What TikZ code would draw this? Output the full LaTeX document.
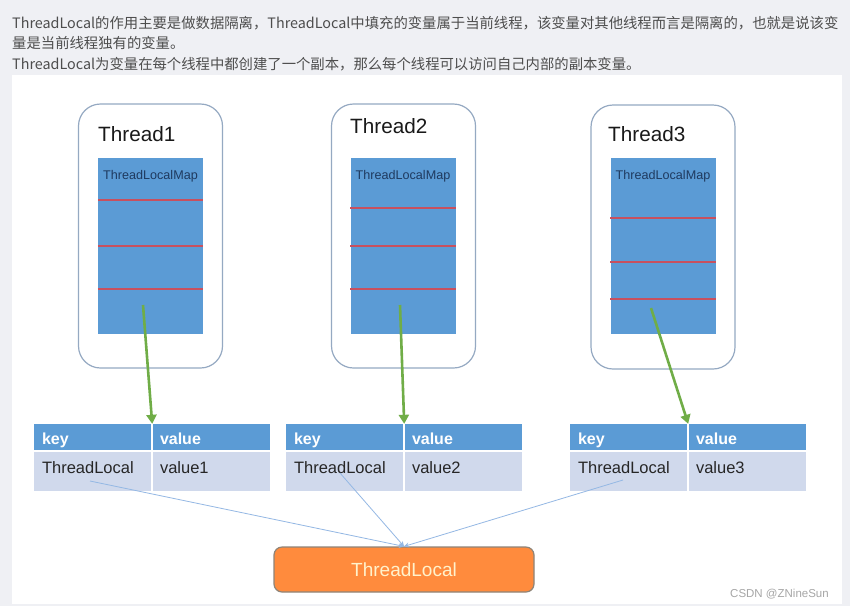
\documentclass[tikz,border=0pt]{standalone}
\usepackage{fontspec}
\setmainfont{Liberation Sans}
\newfontfamily\cjkfont{Noto Sans CJK SC}
\usetikzlibrary{arrows.meta}
\definecolor{bggray}{HTML}{EFF0F4}
\definecolor{topgray}{HTML}{4D4D4D}
\definecolor{threadborder}{HTML}{95A9C2}
\definecolor{mapblue}{HTML}{5B9BD5}
\definecolor{mapfont}{HTML}{1F3A5F}
\definecolor{sepred}{HTML}{C8505F}
\definecolor{arrowgreen}{HTML}{70AD47}
\definecolor{headblue}{HTML}{5B9BD5}
\definecolor{rowblue}{HTML}{D0D9EC}
\definecolor{celltextcol}{HTML}{262626}
\definecolor{lineblue}{HTML}{94B8E4}
\definecolor{tlorange}{HTML}{FF8B3D}
\definecolor{tlborder}{HTML}{8E8478}
\definecolor{tltext}{HTML}{FFF2CC}
\definecolor{marklgray}{HTML}{A6A6A6}
\tikzset{
    threadbox/.style = {rectangle, draw=threadborder, line width=1.2pt, fill=white, rounded corners=22pt, minimum width=144pt, minimum height=264pt, inner sep=0pt},
    mapbox/.style = {rectangle, fill=mapblue, minimum width=105pt, minimum height=176pt, inner sep=0pt},
    sepline/.style = {line width=1.5pt, draw=sepred},
    threadname/.style = {anchor=base west, inner sep=0pt, text=black!90, font=\fontsize{20.7pt}{24pt}\selectfont},
    mapname/.style = {anchor=base, inner sep=0pt, text=mapfont, font=\fontsize{12.6pt}{14pt}\selectfont},
    headcell/.style = {rectangle, fill=headblue, minimum width=117pt, minimum height=26pt, inner sep=0pt},
    rowcell/.style = {rectangle, fill=rowblue, minimum width=117pt, minimum height=39pt, inner sep=0pt},
    headtext/.style = {anchor=base west, inner sep=0pt, text=white, font=\bfseries\fontsize{16pt}{18pt}\selectfont},
    celltext/.style = {anchor=base west, inner sep=0pt, text=celltextcol, font=\fontsize{16.5pt}{18pt}\selectfont},
    tlbox/.style = {rectangle, draw=tlborder, line width=1.2pt, fill=tlorange, rounded corners=8pt, minimum width=260pt, minimum height=45pt, inner sep=0pt, text=tltext, font=\fontsize{19pt}{22pt}\selectfont},
    toptext/.style = {anchor=base west, inner sep=0pt, text=topgray, font=\cjkfont\fontsize{14.35pt}{17pt}\selectfont},
    watermark/.style = {anchor=base east, inner sep=0pt, text=marklgray, font=\fontsize{11.5pt}{13pt}\selectfont},
    link/.style = {-{Triangle[width=10pt,length=9pt]}, line width=2.6pt, draw=arrowgreen},
    ref/.style = {-{Stealth[width=5pt,length=5pt]}, line width=0.8pt, draw=lineblue}
}
\begin{document}
\begin{tikzpicture}[x=1pt,y=-1pt]
\fill[bggray] (0,0) rectangle (850,606);
\fill[white] (12,75) rectangle (842,604);
\useasboundingbox (0,0) rectangle (850,606);
% text above the picture
\node[toptext] (l1) at (12,28) {ThreadLocal的作用主要是做数据隔离，ThreadLocal中填充的变量属于当前线程，该变量对其他线程而言是隔离的，也就是说该变};
\node[toptext] (l2) at (12,48) {量是当前线程独有的变量。};
\node[toptext] (l3) at (12,69) {ThreadLocal为变量在每个线程中都创建了一个副本，那么每个线程可以访问自己内部的副本变量。};
%
% threads
\node[threadbox] at (150.5,236) (th1) {};
\node[threadbox] at (403.5,236) (th2) {};
\node[threadbox] at (663,237) (th3) {};
\node[mapbox] at (150.5,246) (m1) {};
\node[mapbox] at (403,246) (m2) {};
\node[mapbox] at (663,246) (m3) {};
\node[threadname] at (98,141) (t1) {Thread1};
\node[threadname] at (350,133) (t2) {Thread2};
\node[threadname] at (608,141) (t3) {Thread3};
\node[mapname] at ([yshift=-21.5pt]m1.north) (n1) {ThreadLocalMap};
\node[mapname] at ([yshift=-21.5pt]m2.north) (n2) {ThreadLocalMap};
\node[mapname] at ([yshift=-21.5pt]m3.north) (n3) {ThreadLocalMap};
\foreach \d in {42,88,131}
    \draw[sepline] ([yshift=-\d pt]m1.north west) -- ([yshift=-\d pt]m1.north east);
\foreach \d in {50,88,131}
    \draw[sepline] ([yshift=-\d pt]m2.north west) -- ([yshift=-\d pt]m2.north east);
\foreach \d in {60,104,141}
    \draw[sepline] ([yshift=-\d pt]m3.north west) -- ([yshift=-\d pt]m3.north east);
%
% tables
\node[headcell] at (92.5,437) (k1h) {};
\node[headcell] at (211.5,437) (v1h) {};
\node[rowcell] at (92.5,471.5) (k1) {};
\node[rowcell] at (211.5,471.5) (v1) {};
\node[headcell] at (344.5,437) (k2h) {};
\node[headcell] at (463.5,437) (v2h) {};
\node[rowcell] at (344.5,471.5) (k2) {};
\node[rowcell] at (463.5,471.5) (v2) {};
\node[headcell] at (628.5,437) (k3h) {};
\node[headcell] at (747.5,437) (v3h) {};
\node[rowcell] at (628.5,471.5) (k3) {};
\node[rowcell] at (747.5,471.5) (v3) {};
\node[headtext] at ([xshift=8pt,yshift=-7.5pt]k1h.west) (k1ht) {key};
\node[headtext] at ([xshift=7pt,yshift=-7.5pt]v1h.west) (v1ht) {value};
\node[celltext] at ([xshift=8pt,yshift=-1.5pt]k1.west) (k1t) {ThreadLocal};
\node[celltext] at ([xshift=7pt,yshift=-1.5pt]v1.west) (v1t) {value1};
\node[headtext] at ([xshift=8pt,yshift=-7.5pt]k2h.west) (k2ht) {key};
\node[headtext] at ([xshift=7pt,yshift=-7.5pt]v2h.west) (v2ht) {value};
\node[celltext] at ([xshift=8pt,yshift=-1.5pt]k2.west) (k2t) {ThreadLocal};
\node[celltext] at ([xshift=7pt,yshift=-1.5pt]v2.west) (v2t) {value2};
\node[headtext] at ([xshift=8pt,yshift=-7.5pt]k3h.west) (k3ht) {key};
\node[headtext] at ([xshift=7pt,yshift=-7.5pt]v3h.west) (v3ht) {value};
\node[celltext] at ([xshift=8pt,yshift=-1.5pt]k3.west) (k3t) {ThreadLocal};
\node[celltext] at ([xshift=7pt,yshift=-1.5pt]v3.west) (v3t) {value3};
%
\node[tlbox] at (404,569.5) (tl) {ThreadLocal};
\node[watermark] at (829,597) (csdn) {CSDN @ZNineSun};
%
\coordinate (s1) at (143,305);
\coordinate (s2) at (400,305);
\coordinate (s3) at (651,308);
\coordinate (c1) at (90,481);
\coordinate (c2) at (340,473);
\coordinate (c3) at (623,480);
\draw[link] (s1) -- ([xshift=1pt]k1h.north east);
\draw[link] (s2) -- ([xshift=1pt]k2h.north east);
\draw[link] (s3) -- ([xshift=1pt]k3h.north east);
\draw[ref] (c1) -- (tl.north);
\draw[ref] (c2) -- (tl.north);
\draw[ref] (c3) -- (tl.north);
\end{tikzpicture}
\end{document}
